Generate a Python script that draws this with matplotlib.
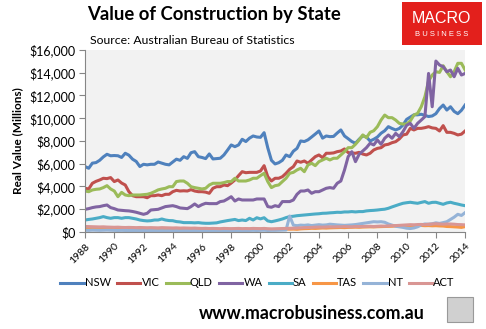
import numpy as np
import matplotlib
matplotlib.use("Agg")
import matplotlib.pyplot as plt
from matplotlib.patches import Rectangle
from matplotlib.ticker import FuncFormatter

plt.rcParams['font.family'] = ['Lato', 'DejaVu Sans']

# quarterly, 1988 Q1 .. 2014 Q1
years = 1988 + 0.25 * np.arange(105)

nsw = [5750, 5600, 6050, 6100, 6300, 6600, 6830, 6700,
       6720, 6700, 6550, 6920, 6750, 6400, 6200, 5750,
       5950, 5900, 5950, 5950, 6150, 6050, 5950, 5900,
       6150, 6400, 6300, 6620, 6470, 6970, 7060, 6620,
       6550, 6450, 6860, 6420, 6450, 6480, 6770, 7200,
       7650, 7500, 7650, 8150, 7950, 8250, 8440, 8350,
       8320, 8730, 7400, 6300, 5980, 6090, 6300, 6770,
       6620, 7100, 7350, 8000, 7950, 8100, 8350, 8610,
       8880, 8250, 8440, 8380, 8400, 8700, 8970, 8440,
       8200, 7950, 7800, 8150, 8450, 8350, 8000, 8150,
       8350, 8680, 8900, 9260, 9100, 8970, 9100, 9400,
       9900, 10100, 10300, 10300, 10350, 10250, 10150, 10200,
       10400, 10850, 11160, 10720, 11010, 10600, 10400, 10700,
       11160]

vic = [3840, 3780, 4280, 4450, 4570, 4720, 4690, 4780,
       4430, 4570, 4300, 4130, 3540, 3190, 3100, 3100,
       3100, 3010, 3190, 3190, 3250, 3190, 3310, 3310,
       3540, 3660, 3600, 3620, 3600, 3720, 3600, 3540,
       3540, 3500, 3400, 3840, 3980, 3980, 4130, 4070,
       4300, 4570, 4950, 5300, 5210, 5240, 5240, 5240,
       5360, 5830, 4860, 4480, 4720, 4720, 4860, 5160,
       5510, 5740, 6240, 6130, 6240, 6040, 6330, 6620,
       6770, 6530, 6920, 6920, 6950, 7060, 7120, 7300,
       6980, 6940, 6920, 7000, 6850, 6770, 6920, 7210,
       7350, 7410, 7650, 7710, 7850, 7940, 8180, 8530,
       8600, 9110, 8970, 9110, 9110, 9170, 9260, 9150,
       9110, 8880, 9350, 8760, 8760, 8670, 8530, 8600,
       8880]

qld = [3600, 3540, 3690, 3750, 3780, 3900, 4070, 3780,
       3600, 3100, 3480, 3250, 3190, 3250, 3250, 3250,
       3280, 3310, 3400, 3540, 3700, 3780, 3840, 3980,
       3980, 4430, 4480, 4480, 4280, 3980, 3900, 3840,
       3780, 3840, 4130, 4280, 4280, 4280, 4340, 4430,
       4430, 4720, 4480, 4480, 4480, 4570, 4720, 4720,
       4950, 5160, 4430, 3900, 4070, 4130, 4430, 4720,
       5160, 5240, 5450, 5600, 5300, 5890, 6040, 5830,
       6180, 6330, 6480, 6330, 6480, 6480, 6770, 7060,
       7410, 7410, 7710, 8090, 8530, 8290, 8760, 8900,
       9260, 9840, 10280, 10050, 10050, 9840, 9550, 9490,
       9490, 9760, 10280, 10430, 11010, 11890, 13270, 13800,
       14090, 14030, 14620, 14090, 13650, 14090, 14830, 14830,
       14240]

wa = [1990, 2050, 2140, 2200, 2230, 2310, 2370, 2140,
      2050, 1930, 1900, 1870, 1850, 1800, 1730, 1640,
      1550, 1640, 1930, 1960, 1990, 2110, 2230, 2270,
      2310, 2230, 2110, 2080, 2050, 2230, 2460, 2230,
      2400, 2520, 2490, 2490, 2490, 2670, 2720, 2900,
      3100, 2720, 2900, 2810, 2810, 2810, 2810, 2900,
      2900, 2900, 2230, 2170, 2310, 2230, 2670, 2670,
      2670, 2810, 3310, 3600, 3600, 3690, 3400, 3540,
      3540, 3690, 3840, 3900, 3840, 4280, 4480, 5450,
      6620, 7060, 6180, 6830, 7120, 7410, 7800, 7650,
      8090, 7710, 8240, 8530, 8240, 8670, 8380, 8820,
      9380, 9550, 9110, 9550, 9840, 10140, 13940, 11010,
      15030, 14680, 14530, 14090, 14240, 13650, 14390, 13800,
      13940]

sa = [1050, 1100, 1140, 1200, 1260, 1350, 1260, 1200,
      1260, 1260, 1200, 1260, 1260, 1200, 1140, 1050,
      1000, 970, 990, 1050, 1050, 1140, 1050, 1000,
      990, 910, 880, 820, 820, 820, 800, 820,
      780, 760, 760, 780, 800, 880, 940, 1000,
      1050, 1100, 1000, 1050, 1000, 1200, 1050, 1250,
      1150, 1250, 970, 900, 970, 1050, 1140, 1260,
      1350, 1380, 1430, 1460, 1490, 1520, 1550, 1580,
      1600, 1640, 1650, 1680, 1700, 1730, 1720, 1760,
      1760, 1790, 1760, 1790, 1790, 1850, 1880, 1900,
      1930, 1970, 2000, 2080, 2200, 2310, 2420, 2520,
      2570, 2610, 2560, 2520, 2600, 2670, 2520, 2600,
      2610, 2520, 2430, 2550, 2610, 2520, 2450, 2370,
      2310]

tas = [330, 320, 340, 330, 340, 350, 330, 320,
       330, 310, 300, 290, 290, 280, 270, 270,
       260, 270, 260, 250, 250, 260, 250, 240,
       250, 240, 250, 230, 240, 230, 220, 230,
       220, 210, 220, 200, 210, 200, 220, 210,
       230, 220, 240, 230, 240, 230, 250, 240,
       250, 270, 230, 220, 220, 230, 240, 250,
       240, 250, 230, 270, 290, 300, 320, 310,
       330, 350, 340, 360, 370, 380, 390, 380,
       400, 410, 420, 410, 430, 440, 450, 440,
       460, 470, 480, 490, 500, 520, 510, 520,
       540, 550, 520, 560, 570, 550, 560, 540,
       550, 530, 520, 480, 470, 450, 430, 400,
       470]

nt = [150, 140, 160, 150, 140, 150, 160, 150,
      140, 130, 140, 130, 120, 130, 120, 110,
      120, 110, 120, 110, 100, 110, 100, 110,
      100, 110, 100, 110, 120, 110, 120, 110,
      110, 100, 110, 100, 110, 120, 110, 120,
      120, 130, 120, 130, 120, 130, 140, 130,
      140, 150, 130, 140, 140, 150, 160, 170,
      1400, 600, 550, 600, 580, 620, 560, 600,
      640, 600, 620, 680, 650, 620, 600, 580,
      600, 620, 650, 700, 750, 800, 850, 900,
      880, 900, 850, 700, 600, 500, 450, 400,
      330, 300, 350, 450, 620, 700, 680, 720,
      800, 750, 820, 900, 1100, 1300, 1550, 1450,
      1700]

act = [480, 470, 460, 450, 440, 450, 430, 420,
       410, 420, 400, 390, 400, 390, 380, 390,
       380, 370, 380, 370, 360, 380, 370, 360,
       350, 360, 340, 350, 340, 330, 340, 320,
       310, 320, 300, 310, 300, 290, 310, 300,
       290, 300, 310, 290, 300, 290, 310, 300,
       290, 310, 280, 270, 280, 290, 300, 310,
       320, 330, 340, 360, 380, 390, 400, 420,
       430, 420, 440, 450, 440, 460, 450, 470,
       460, 450, 480, 470, 480, 490, 500, 480,
       500, 520, 510, 530, 550, 560, 580, 600,
       620, 640, 630, 650, 660, 640, 680, 700,
       720, 700, 680, 700, 700, 680, 650, 640,
       620]

states = ['NSW', 'VIC', 'QLD', 'WA', 'SA', 'TAS', 'NT', 'ACT']
series = [nsw, vic, qld, wa, sa, tas, nt, act]
colors = ['#4F81BD', '#C0504D', '#9BBB59', '#8064A2',
          '#4BACC6', '#F79646', '#95B3D7', '#D99694']
tick_years = list(range(1988, 2015, 2))

fig = plt.figure(figsize=(4.86, 3.29), dpi=100)
ax = fig.add_axes([0.175, 0.295, 0.782, 0.553])
ax.set_facecolor('#F2F2F2')

for name, vals, c in zip(states, series, colors):
    ax.plot(years, vals, color=c, lw=2.2, label=name, solid_joinstyle='round')

ax.set_xlim(1988, 2014)
ax.set_ylim(0, 16000)
ax.set_xticks(tick_years, labels=[str(y) for y in tick_years], rotation=45,
              ha='right', rotation_mode='anchor')
ax.set_yticks(np.arange(0, 16001, 2000))
ax.yaxis.set_major_formatter(FuncFormatter(lambda v, p: '${:,.0f}'.format(v)))
ax.tick_params(axis='x', labelsize=7.5, length=4, color='#868686', pad=3)
ax.tick_params(axis='y', labelsize=9, length=4, color='#868686', pad=3)
for s in ['top', 'right']:
    ax.spines[s].set_visible(False)
for s in ['left', 'bottom']:
    ax.spines[s].set_color('#868686')
ax.set_ylabel('Real Value (Millions)', fontsize=8.5, fontweight='bold', labelpad=4)

fig.text(0.179, 0.955, 'Value of Construction by State', fontsize=13.3,
         fontweight='bold', va='center', ha='left')
fig.text(0.185, 0.878, 'Source: Australian Bureau of Statistics', fontsize=8.8,
         va='center', ha='left')

# logo
fig.patches.append(Rectangle((0.827, 0.863), 0.165, 0.131, transform=fig.transFigure,
                             facecolor='#E3201C', edgecolor='none'))
fig.text(0.909, 0.945, 'MACRO', color='white', fontsize=11.5, ha='center', va='center',
         family='Liberation Sans')
fig.text(0.909, 0.895, 'B U S I N E S S', color='white', fontsize=5.5, ha='center',
         va='center', family='Liberation Sans')

fig.legend(loc='center', bbox_to_anchor=(0.53, 0.14), ncol=8, frameon=False,
           fontsize=8, handlelength=2.1, handletextpad=0.1, columnspacing=0.55)

fig.text(0.642, 0.048, 'www.macrobusiness.com.au', fontsize=12.8, fontweight='bold',
         ha='center', va='center')
fig.patches.append(Rectangle((0.920, 0.022), 0.053, 0.076, transform=fig.transFigure,
                             facecolor='#D0D0D0', edgecolor='#999999', lw=0.8))

fig.savefig('out.png', dpi=100)
